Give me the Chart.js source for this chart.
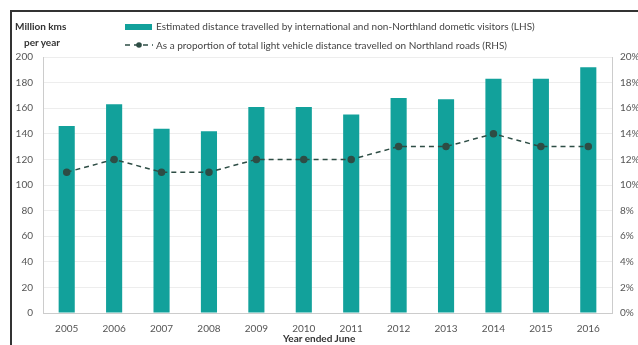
<!DOCTYPE html>
<html>
<head>
<meta charset="utf-8">
<script src="https://cdn.jsdelivr.net/npm/chart.js@4.4.0/dist/chart.umd.min.js"></script>
<style>
  html, body { margin: 0; padding: 0; background: #fff; }
  #wrap { position: relative; width: 638px; height: 345px; overflow: hidden; font-family: Lato, 'Open Sans', sans-serif; }
  #frame { position: absolute; left: 10px; top: 10px; width: 640px; height: 350px; border-left: 2px solid #333; border-top: 2px solid #333; }
  canvas { position: absolute; left: 0; top: 0; }
  .lbl { position: absolute; font-size: 10px; color: #444; white-space: nowrap; }
  .bold { font-weight: bold; color: #333; }
  .sw { position: absolute; }
</style>
</head>
<body>
<div id="wrap">
  <canvas id="chart" width="638" height="345"></canvas>
  <div id="frame"></div>
  <div class="lbl bold" style="left:15px;top:20px;">Million kms</div>
  <div class="lbl bold" style="left:24px;top:36px;">per year</div>
  <div class="sw" style="left:125px;top:24px;width:27px;height:6px;background:#12a19b;"></div>
  <div class="lbl" style="left:156px;top:20px;">Estimated distance travelled by international and non-Northland dometic visitors (LHS)</div>
  <svg class="sw" style="left:124px;top:40px;" width="30" height="10">
    <line x1="1" y1="5" x2="29" y2="5" stroke="#2e4d45" stroke-width="1.5" stroke-dasharray="5,4"></line>
    <circle cx="15" cy="5" r="2.8" fill="#2e4d45"></circle>
  </svg>
  <div class="lbl" style="left:156px;top:39px;">As a proportion of total light vehicle distance travelled on Northland roads (RHS)</div>
  <div class="lbl bold" style="left:283px;top:332px;">Year ended June</div>
</div>
<script>
'use strict';

// Data
const years = ['2005', '2006', '2007', '2008', '2009', '2010', '2011', '2012', '2013', '2014', '2015', '2016'];
const distanceKms = [146, 163, 144, 142, 161, 161, 155, 168, 167, 183, 183, 192];
const shareOfTotal = [11, 12, 11, 11, 12, 12, 12, 13, 13, 14, 13, 13];

// Colours
const barColor = '#12a19b',
  lineColor = '#2e4d45',
  gridColor = 'rgba(0,0,0,0.07)',
  labelColor = '#555';

const ctx = document.getElementById('chart');
new Chart(ctx, {
  data: {
    labels: years,
    datasets: [
      {
        type: 'line',
        data: shareOfTotal,
        yAxisID: 'y1',
        borderColor: lineColor,
        borderWidth: 1.5,
        borderDash: [5, 4],
        pointRadius: 3,
        pointBackgroundColor: lineColor,
        pointBorderColor: lineColor,
        tension: 0,
        order: 0
      },
      {
        type: 'bar',
        data: distanceKms,
        yAxisID: 'y',
        backgroundColor: barColor,
        borderWidth: 0,
        categoryPercentage: 1,
        barPercentage: 0.34,
        order: 1
      }
    ]
  },
  options: {
    responsive: false,
    animation: false,
    layout: { padding: { top: 57, left: 0, right: 0, bottom: 0 } },
    plugins: {
      legend: { display: false },
      tooltip: { enabled: false }
    },
    scales: {
      x: {
        grid: { display: false },
        border: { color: '#ccc' },
        ticks: { color: labelColor, font: { size: 10, family: 'Lato' }, padding: 2, maxRotation: 0 },
        afterFit: function (scale) { scale.height = 32; }
      },
      y: {
        position: 'left',
        min: 0,
        max: 200,
        grid: { color: gridColor, drawTicks: false },
        border: { color: '#ccc' },
        ticks: { stepSize: 20, color: labelColor, font: { size: 10, family: 'Lato' }, padding: 10 },
        afterFit: function (scale) { scale.width = 43; }
      },
      y1: {
        position: 'right',
        min: 0,
        max: 20,
        grid: { display: false, drawTicks: false },
        border: { color: '#ccc' },
        ticks: {
          stepSize: 2,
          color: labelColor,
          font: { size: 10, family: 'Lato' },
          padding: 8,
          callback: function (v) { return v + '%'; }
        },
        afterFit: function (scale) { scale.width = 26; }
      }
    }
  }
});
</script>
</body>
</html>
